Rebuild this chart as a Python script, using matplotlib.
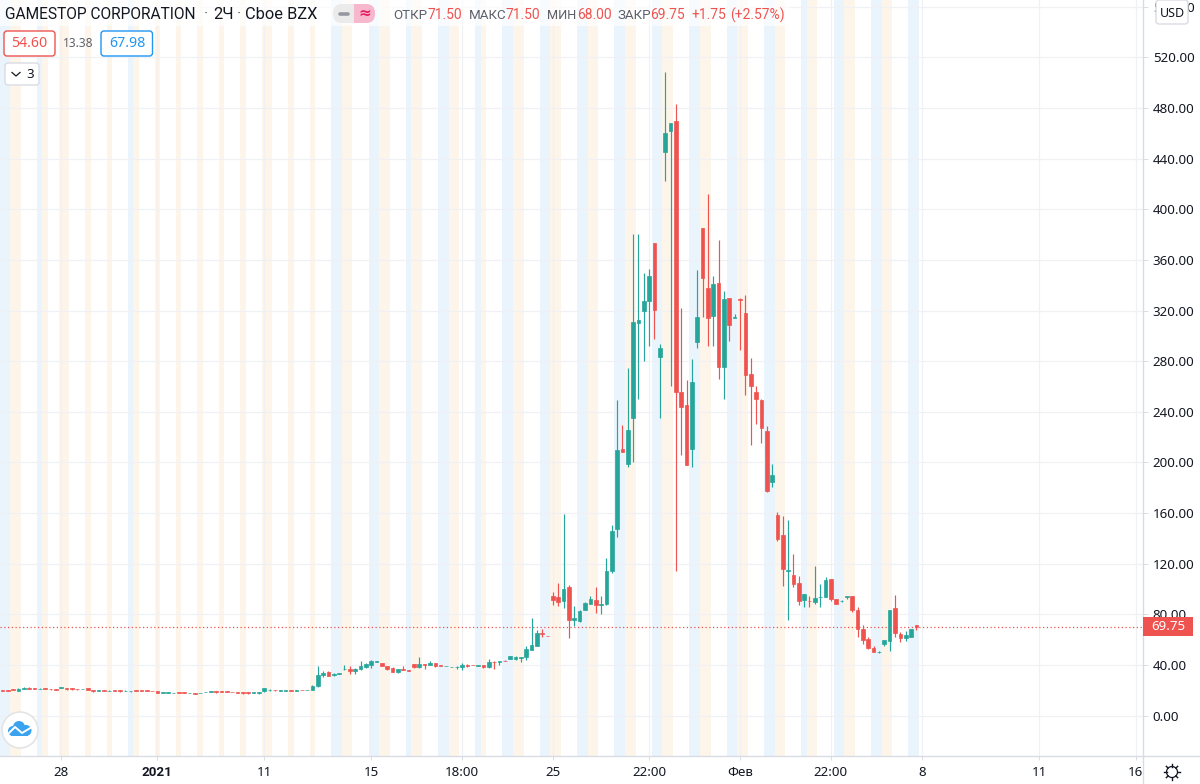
import matplotlib
matplotlib.use("Agg")
import matplotlib.pyplot as plt
from matplotlib.patches import Circle, FancyBboxPatch, Rectangle
import numpy as np

# ── data ──────────────────────────────────────────────────────────────────────
opens = [
    20.1, 20.4, 20.9, 19.8, 21.3, 22.2, 21.9, 20.9, 21.6, 21.4,
    21.1, 22.1, 21.9, 21.6, 21.4, 20.9, 21.6, 20.3, 19.8, 20.3,
    19.5, 20.0, 20.0, 19.5, 19.2, 20.0, 20.0, 20.0, 19.8, 19.2,
    18.0, 18.0, 17.7, 18.4, 18.4, 17.7, 17.9, 17.7, 18.5, 18.8,
    19.2, 19.4, 19.4, 18.9, 18.6, 18.6, 18.4, 18.0, 18.0, 19.2,
    20.1, 20.5, 19.8, 19.8, 20.2, 19.8, 20.5, 20.1, 20.3, 23.2,
    31.9, 34.2, 32.4, 33.2, 36.6, 36.9, 35.0, 36.6, 38.7, 39.8,
    42.4, 41.3, 39.0, 37.6, 34.5, 36.6, 36.1, 40.8, 38.7, 40.8,
    40.0, 41.3, 39.8, 39.0, 38.2, 38.2, 38.2, 40.3, 40.1, 39.2,
    39.8, 38.7, 42.8, 42.7, 43.6, 45.0, 44.5, 45.8, 46.4, 52.1,
    55.3, 65.0, 63.0, 94.8, 93.4, 90.3, 101.3, 75.3, 74.5, 83.7,
    88.4, 91.4, 87.7, 88.2, 114.5, 147.4, 210.6, 199.0, 235.0, 310.0,
    319.3, 327.2, 373.5, 283.0, 445.2, 461.4, 469.4, 255.6, 245.0, 210.3,
    295.3, 384.8, 337.4, 315.3, 341.7, 275.6, 329.5, 314.3, 329.3, 318.0,
    269.8, 256.0, 249.5, 224.8, 184.8, 158.5, 142.4, 114.2, 111.1, 105.0,
    91.6, 90.9, 89.8, 93.7, 94.0, 107.9, 91.8, 90.3, 93.5, 94.5,
    83.7, 68.7, 60.3, 53.7, 50.1, 56.3, 59.0, 85.0, 64.8, 61.0,
    62.4, 71.5,
]
highs = [
    20.2, 20.5, 21.0, 21.6, 22.6, 22.4, 22.0, 21.6, 21.7, 21.5,
    21.2, 23.0, 22.1, 21.7, 21.5, 21.4, 21.7, 20.4, 20.4, 20.4,
    20.0, 20.1, 20.1, 20.0, 19.8, 20.1, 20.1, 20.1, 19.9, 19.3,
    18.5, 18.5, 18.2, 18.7, 18.5, 18.2, 18.0, 18.2, 19.0, 19.3,
    19.3, 19.5, 19.5, 19.0, 18.7, 18.7, 18.5, 18.5, 18.5, 21.9,
    21.2, 20.6, 20.3, 20.3, 20.3, 20.3, 20.6, 20.6, 23.9, 39.0,
    35.5, 35.0, 33.7, 34.0, 40.0, 39.0, 37.6, 43.4, 41.6, 43.7,
    43.0, 41.4, 39.5, 38.4, 37.0, 39.0, 36.2, 41.0, 46.3, 40.9,
    42.9, 41.4, 39.9, 39.6, 38.8, 39.5, 41.6, 41.0, 40.2, 39.9,
    39.9, 45.0, 42.9, 43.2, 43.7, 47.5, 47.4, 46.6, 54.7, 77.1,
    67.9, 68.5, 63.0, 97.4, 104.8, 159.3, 103.5, 86.9, 83.7, 89.5,
    94.8, 101.6, 94.2, 124.8, 150.6, 249.0, 229.8, 274.6, 380.4, 380.4,
    349.6, 352.8, 373.5, 293.5, 508.3, 468.0, 483.0, 322.0, 265.3, 281.9,
    352.2, 385.5, 412.0, 347.2, 375.7, 335.4, 330.0, 317.4, 330.0, 332.4,
    282.5, 260.6, 250.0, 229.0, 198.8, 160.9, 157.9, 154.2, 127.9, 110.3,
    96.3, 94.2, 118.2, 104.2, 109.5, 108.2, 92.2, 91.2, 94.5, 94.6,
    85.8, 71.6, 62.2, 55.0, 50.8, 59.6, 83.5, 95.6, 66.3, 66.9,
    68.7, 71.5,
]
lows = [
    19.3, 19.6, 20.0, 19.5, 21.0, 21.4, 21.2, 20.8, 20.9, 20.7,
    20.1, 21.9, 20.4, 20.5, 20.7, 20.8, 20.2, 18.9, 19.2, 19.7,
    19.4, 19.4, 19.0, 19.4, 19.0, 19.4, 19.4, 19.4, 19.2, 17.6,
    17.9, 17.9, 17.6, 17.9, 17.9, 17.6, 17.1, 17.6, 18.4, 18.7,
    17.9, 18.9, 18.9, 18.4, 18.1, 17.5, 17.2, 17.9, 17.5, 19.1,
    19.5, 19.9, 19.6, 19.7, 19.7, 19.7, 20.0, 20.0, 20.2, 23.0,
    30.3, 31.1, 31.1, 33.0, 35.8, 32.9, 33.2, 35.8, 37.6, 37.6,
    42.3, 39.1, 35.8, 34.2, 33.7, 35.8, 35.2, 37.6, 37.9, 36.9,
    39.9, 38.4, 39.1, 38.9, 38.1, 37.1, 36.1, 38.2, 39.7, 39.1,
    37.9, 37.9, 37.1, 40.3, 43.1, 44.9, 44.4, 42.6, 44.2, 52.0,
    54.7, 62.0, 62.7, 87.1, 86.3, 85.0, 61.4, 71.0, 74.0, 83.7,
    88.0, 81.0, 80.5, 87.7, 112.7, 141.1, 208.0, 196.4, 200.0, 250.0,
    280.3, 292.2, 297.5, 235.3, 422.0, 260.6, 114.0, 206.1, 197.7, 196.4,
    290.4, 314.5, 292.2, 291.6, 265.9, 250.0, 295.6, 314.3, 289.0, 253.5,
    213.5, 230.3, 215.0, 176.9, 180.3, 137.6, 102.1, 75.3, 101.6, 87.7,
    86.1, 86.1, 87.9, 85.5, 93.4, 90.8, 88.2, 90.0, 92.2, 81.6,
    61.8, 56.9, 52.9, 50.0, 49.9, 54.7, 51.3, 61.8, 57.9, 59.0,
    62.0, 68.0,
]
closes = [
    19.4, 19.7, 20.1, 21.3, 21.8, 21.5, 21.3, 21.4, 21.0, 20.8,
    20.5, 22.7, 21.3, 21.0, 20.8, 21.3, 20.3, 19.7, 20.2, 19.8,
    19.9, 19.5, 19.5, 19.9, 19.7, 19.5, 19.5, 19.5, 19.3, 17.7,
    18.4, 18.4, 18.1, 18.0, 18.0, 18.1, 17.4, 18.1, 18.9, 19.2,
    18.8, 19.0, 19.0, 18.5, 18.2, 18.2, 18.0, 18.4, 18.4, 21.8,
    20.5, 20.1, 20.2, 20.2, 19.8, 20.2, 20.1, 20.5, 23.4, 32.1,
    34.0, 31.6, 32.9, 33.7, 37.0, 35.5, 37.1, 39.2, 40.8, 42.9,
    42.9, 39.2, 37.1, 34.5, 36.9, 36.2, 35.3, 38.4, 41.0, 40.3,
    41.6, 39.2, 39.2, 39.5, 38.7, 38.7, 39.8, 39.0, 39.8, 39.8,
    38.7, 42.6, 42.4, 43.1, 43.2, 47.4, 46.3, 46.5, 52.4, 55.5,
    65.3, 64.5, 62.7, 91.0, 89.5, 100.3, 75.8, 77.4, 82.4, 89.2,
    92.4, 87.1, 88.3, 114.3, 145.9, 210.0, 208.2, 226.0, 311.0, 312.7,
    327.2, 347.2, 320.6, 290.6, 460.4, 467.8, 255.3, 243.8, 197.7, 263.5,
    314.5, 345.6, 314.0, 341.2, 275.6, 329.0, 308.8, 315.0, 328.6, 269.3,
    260.4, 250.0, 226.9, 177.7, 189.8, 139.5, 115.9, 114.9, 103.7, 90.3,
    96.1, 90.3, 93.2, 94.0, 106.8, 92.4, 88.4, 90.9, 94.2, 83.7,
    68.7, 60.0, 53.7, 50.0, 50.6, 59.5, 83.2, 65.0, 61.0, 64.0,
    68.5, 69.75,
]

premarket_bars = [0, 1, 7, 24, 62, 63, 69, 70, 76, 82, 83, 89, 94, 95, 101, 102, 108, 109,
                  115, 116, 122, 123, 129, 130, 136, 137, 143, 144, 150, 156, 157, 163, 164, 170, 171]
afterhours_bars = [2, 3, 8, 11, 12, 16, 20, 25, 29, 33, 37, 41, 45, 49, 50, 54, 58, 64, 65, 71, 72,
                   77, 78, 84, 85, 90, 96, 97, 103, 104, 110, 111, 117, 118, 124, 125, 131, 132,
                   138, 139, 145, 146, 151, 152, 158, 159, 165, 166]

time_ticks = [11, 29, 49, 69, 86, 103, 121, 138, 155, 172, 194, 212]
time_labels = ["28", "2021", "11", "15", "18:00", "25", "22:00", "Фев", "22:00", "8", "11", "16"]
price_ticks = list(range(0, 561, 40))

# ── style ─────────────────────────────────────────────────────────────────────
plt.rcParams["font.family"] = ["Noto Sans", "DejaVu Sans"]

UP = "#26a69a"
DOWN = "#ef5350"
BLUE = "#2196f3"
TEXT = "#131722"
GREY = "#5d606b"
GRID = "#f0f1f5"
EDGE = "#d9dce3"

fig = plt.figure(figsize=(12, 7.84), dpi=100, facecolor="white")

# chart pane ends at x=1143, y=756 (pixels)
ax = fig.add_axes([0, 1 - 756 / 784, 1143 / 1200, 756 / 784])
ax.set_xlim(-0.449, 213.4)
ax.set_ylim(-31.8, 565.2)

for b in premarket_bars:
    ax.axvspan(b - 0.5, b + 0.5, color="#eaf4fd", lw=0, zorder=0)
for b in afterhours_bars:
    ax.axvspan(b - 0.5, b + 0.5, color="#fef5ea", lw=0, zorder=0)

# ── candles ───────────────────────────────────────────────────────────────────
idx = np.arange(len(closes))
o, h, l, c = map(np.array, (opens, highs, lows, closes))
colors = [UP if cl >= op else DOWN for op, cl in zip(opens, closes)]
ax.vlines(idx, l, h, colors=colors, linewidth=0.85, zorder=3)
ax.bar(idx, np.abs(c - o), bottom=np.minimum(o, c), width=0.68, color=colors,
       edgecolor=colors, linewidth=0.5, zorder=4)

ax.axhline(closes[-1], color=DOWN, linestyle=(0, (1, 2)), linewidth=0.9, zorder=5)

# ── axes ──────────────────────────────────────────────────────────────────────
ax.yaxis.tick_right()
ax.set_yticks(price_ticks)
ax.set_yticklabels([f"{p:.2f}" for p in price_ticks])
ax.set_xticks(time_ticks)
tick_texts = ax.set_xticklabels(time_labels)
tick_texts[1].set_fontweight("bold")
tick_texts[1].set_family("Roboto")
ax.tick_params(axis="y", length=3.6, width=0.7, color=EDGE, labelsize=9.6, labelcolor=TEXT, pad=3.5)
ax.tick_params(axis="x", length=3, width=0.7, color=EDGE, labelsize=9.6, labelcolor=TEXT, pad=4)
ax.grid(True, color=GRID, linewidth=0.9, zorder=1)
ax.set_axisbelow(True)
for side in ("left", "top"):
    ax.spines[side].set_visible(False)
for side in ("right", "bottom"):
    ax.spines[side].set_color(EDGE)
    ax.spines[side].set_linewidth(1.0)

# ── overlay in pixel coordinates: legend strip, buttons, logo ─────────────────
ui = fig.add_axes([0, 0, 1, 1], facecolor="none")
ui.set_xlim(0, 1200)
ui.set_ylim(784, 0)
ui.axis("off")

# pane borders run on to the figure edges
ui.plot([1143, 1200], [756, 756], color=EDGE, lw=1.0, zorder=2)
ui.plot([1143, 1143], [756, 784], color=EDGE, lw=1.0, zorder=2)


def box(x0, y0, x1, y1, edge, face="white", lw=1.0, rad=3, z=6):
    ui.add_patch(FancyBboxPatch((x0 + rad, y0 + rad), x1 - x0 - 2 * rad, y1 - y0 - 2 * rad,
                                boxstyle=f"round,pad={rad},rounding_size={rad}",
                                facecolor=face, edgecolor=edge, linewidth=lw, zorder=z))


ui.add_patch(Rectangle((0, 0), 790, 26, facecolor="white", alpha=0.7, lw=0, zorder=5))

title_parts = [(5, "GAMESTOP CORPORATION", TEXT, 11.2), (204, "·", GREY, 11.8), (213, "2Ч", TEXT, 11.8),
               (236.5, "·", GREY, 11.8), (245, "Cboe BZX", TEXT, 11.8)]
for x, s, col, size in title_parts:
    ui.text(x, 14, s, fontsize=size, color=col, va="center", family=["Roboto", "DejaVu Sans"], zorder=7)

# toggle pill
box(333, 4, 375, 23, "#ebebeb", "#ebebeb", lw=0, rad=9)
ui.add_patch(Rectangle((354, 4), 10, 19, facecolor="#f7b7cc", lw=0, zorder=6))
box(356, 4, 375, 23, "#f7b7cc", "#f7b7cc", lw=0, rad=9, z=6)
ui.plot([340, 348], [13.5, 13.5], color="#9598a1", lw=2.6, solid_capstyle="round", zorder=7)
ui.text(364.5, 13, "≈", fontsize=11, color="#e91e63", ha="center", va="center", zorder=7,
        fontweight="bold", family="DejaVu Sans")

ohlc_labels = [(393, "ОТКР", GREY, 9.6), (428, "71.50", DOWN, 10), (469, "МАКС", GREY, 9.6), (505, "71.50", DOWN, 10),
               (547, "МИН", GREY, 9.2), (577, "68.00", DOWN, 10), (617, "ЗАКР", GREY, 9.6), (650, "69.75", DOWN, 10),
               (691, "+1.75", DOWN, 10), (730, "(+2.57%)", DOWN, 10)]
for x, s, col, size in ohlc_labels:
    ui.text(x, 15, s, fontsize=size, color=col, va="center", family=["Roboto", "DejaVu Sans"], zorder=7)

box(4, 31, 55, 56, DOWN)
ui.text(29.5, 43.5, "54.60", fontsize=10.2, color=DOWN, ha="center", va="center", zorder=7)
ui.text(78.5, 43.5, "13.38", fontsize=8.6, color=GREY, ha="center", va="center", zorder=7)
box(101, 31, 152.5, 56, BLUE)
ui.text(127, 43.5, "67.98", fontsize=10.2, color=BLUE, ha="center", va="center", zorder=7)

box(5, 63, 39, 85, EDGE)
ui.plot([12, 16, 20], [72.5, 76, 72.5], color=TEXT, lw=0.9, zorder=7)
ui.text(30, 74, "3", fontsize=9.6, color=TEXT, ha="center", va="center", zorder=7)

# last price tag and currency button
ui.add_patch(Rectangle((1143, 617), 50, 19, facecolor=DOWN, lw=0, zorder=7))
ui.text(1168, 626.5, "69.75", fontsize=9.6, color="white", ha="center", va="center", zorder=8)
box(1156, 0, 1188, 24, EDGE, rad=3, z=7)
ui.text(1172, 13, "USD", fontsize=9, color=TEXT, ha="center", va="center", zorder=8)

# logo
ui.add_patch(Circle((20, 730), 18, facecolor="white", edgecolor="#e4e4e4", lw=1.2, zorder=6))
for cx, cy, r in [(13, 731, 5), (19, 727, 6), (26, 730.5, 5.5)]:
    ui.add_patch(Circle((cx, cy), r, facecolor="#3aa3f0", lw=0, zorder=7))
ui.add_patch(Rectangle((11, 730), 17, 6, facecolor="#3aa3f0", lw=0, zorder=7))
ui.plot([9, 15, 22, 32], [733, 727, 733, 727], color="white", lw=1.4, zorder=8)

# settings gear
ui.add_patch(Circle((1172, 772), 5.5, facecolor="none", edgecolor=TEXT, lw=0.9, zorder=7))
for a in np.deg2rad(np.arange(0, 360, 45)):
    ui.plot([1172 + 5.5 * np.cos(a), 1172 + 8 * np.cos(a)],
            [772 + 5.5 * np.sin(a), 772 + 8 * np.sin(a)], color=TEXT, lw=1.0, zorder=7)

fig.savefig("out.png", dpi=100, facecolor="white")
